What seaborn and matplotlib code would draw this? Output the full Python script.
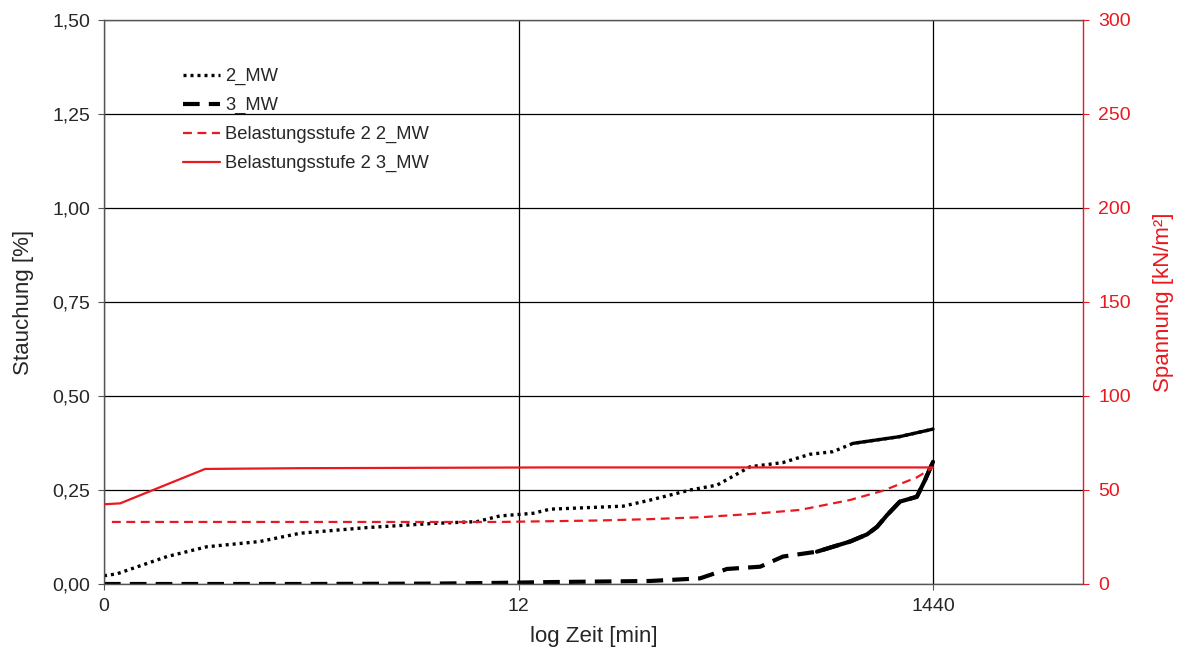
import numpy as np
import pandas as pd
import seaborn as sns
import matplotlib
matplotlib.use('Agg')
import matplotlib.pyplot as plt
from matplotlib.ticker import FuncFormatter

# x = Position auf der (pseudo-)log Zeitachse: 0 -> 0 min, 1 -> 12 min, 2 -> 1440 min
x_2mw = [0, 0.031, 0.152, 0.248, 0.376, 0.473, 0.634, 0.794, 0.900, 0.955, 1.035, 1.076,
         1.252, 1.317, 1.414, 1.479, 1.559, 1.638, 1.703, 1.759, 1.807, 1.920, 2.0]
y_2mw = [0.022, 0.027, 0.073, 0.099, 0.113, 0.135, 0.150, 0.161, 0.166, 0.181, 0.188, 0.199,
         0.207, 0.223, 0.250, 0.263, 0.312, 0.323, 0.345, 0.352, 0.374, 0.392, 0.412]

x_3mw = [0, 0.473, 0.794, 0.955, 1.069, 1.317, 1.438, 1.462, 1.503, 1.583, 1.638, 1.720,
         1.800, 1.841, 1.865, 1.889, 1.920, 1.961, 1.981, 2.0]
y_3mw = [0, 0, 0.001, 0.003, 0.005, 0.008, 0.015, 0.024, 0.040, 0.046, 0.073, 0.086,
         0.113, 0.132, 0.152, 0.183, 0.219, 0.232, 0.277, 0.325]

# Belastung (rechte Achse, kN/m²)
x_bel2 = [0.019, 0.955, 1.197, 1.317, 1.438, 1.559, 1.679, 1.800, 1.879, 1.961, 2.0]
y_bel2 = [33.0, 33.0, 33.8, 34.5, 35.5, 37.2, 39.4, 44.7, 49.6, 56.7, 62.0]

x_bel3 = [0, 0.039, 0.244, 0.473, 1.069, 2.0]
y_bel3 = [42.4, 42.9, 61.2, 61.6, 62.0, 62.0]

x_ticks = [0, 1, 2]
x_ticklabels = ['0', '12', '1440']

sns.set_style('white')
plt.rcParams['font.family'] = ['Liberation Sans', 'DejaVu Sans']

df2 = pd.DataFrame({'x': x_2mw, 'y': y_2mw})
df3 = pd.DataFrame({'x': x_3mw, 'y': y_3mw})
dfb2 = pd.DataFrame({'x': x_bel2, 'y': y_bel2})
dfb3 = pd.DataFrame({'x': x_bel3, 'y': y_bel3})

RED = '#e8191f'

fig = plt.figure(figsize=(11.9, 6.5), dpi=100)
ax = fig.add_axes([104 / 1190, 1 - 584 / 650, (1083 - 104) / 1190, (584 - 20) / 650])
ax2 = ax.twinx()

# Stauchung (linke Achse)
sns.lineplot(data=df2, x='x', y='y', ax=ax, color='black', lw=2.4, ls=(0, (0.9, 1.2)), label='2_MW')
sns.lineplot(data=df2[df2['x'] >= 1.78], x='x', y='y', ax=ax, color='black', lw=2.4)
sns.lineplot(data=df3, x='x', y='y', ax=ax, color='black', lw=3, ls=(0, (4, 2.2)), label='3_MW')
sns.lineplot(data=df3[df3['x'] >= 1.64], x='x', y='y', ax=ax, color='black', lw=3)

# Spannung (rechte Achse)
sns.lineplot(data=dfb2, x='x', y='y', ax=ax2, color=RED, lw=1.6, ls=(0, (4, 2.5)),
             label='Belastungsstufe 2 2_MW')
sns.lineplot(data=dfb3, x='x', y='y', ax=ax2, color=RED, lw=1.6,
             label='Belastungsstufe 2 3_MW')

ax.set_xlim(0, (1083 - 104) / 414.5)
ax.set_ylim(0, 1.5)
ax2.set_ylim(0, 300)
ax.set_yticks(np.arange(0, 1.51, 0.25))
ax.yaxis.set_major_formatter(FuncFormatter(lambda v, p: f'{v:.2f}'.replace('.', ',')))
ax2.set_yticks(np.arange(0, 301, 50))
ax.set_xticks(x_ticks)
ax.set_xticklabels(x_ticklabels)

ax.grid(True, color='black', lw=0.9)
ax.set_axisbelow(True)
ax2.grid(False)

ax.set_xlabel('log Zeit [min]', fontsize=16, labelpad=8)
ax.set_ylabel('Stauchung [%]', fontsize=16, labelpad=13)
ax2.set_ylabel('Spannung [kN/m²]', fontsize=16, color=RED, labelpad=16)

ax.tick_params(axis='both', which='major', labelsize=14, length=4, width=0.8,
               direction='out', color='#555555', left=True, bottom=True, pad=6)
ax2.tick_params(axis='y', labelsize=14, length=4, width=0.8, direction='out',
                colors=RED, right=True, pad=7)

for side in ['left', 'bottom', 'top']:
    ax.spines[side].set_color('#555555')
    ax.spines[side].set_linewidth(1.0)
ax.spines['right'].set_visible(False)
for side in ['left', 'bottom', 'top']:
    ax2.spines[side].set_visible(False)
ax2.spines['right'].set_color(RED)
ax2.spines['right'].set_linewidth(1.0)

# Legende kombinieren
h1, l1 = ax.get_legend_handles_labels()
h2, l2 = ax2.get_legend_handles_labels()
if ax.get_legend() is not None:
    ax.get_legend().remove()
if ax2.get_legend() is not None:
    ax2.get_legend().remove()
ax2.legend(h1 + h2, l1 + l2, loc='upper left', bbox_to_anchor=(183 / 1190, 1 - 68 / 650),
           bbox_transform=fig.transFigure, frameon=False, fontsize=13.2, borderpad=0,
           borderaxespad=0, handlelength=2.0, handletextpad=0.3, labelspacing=0.65)

fig.savefig('out.png', dpi=100)
